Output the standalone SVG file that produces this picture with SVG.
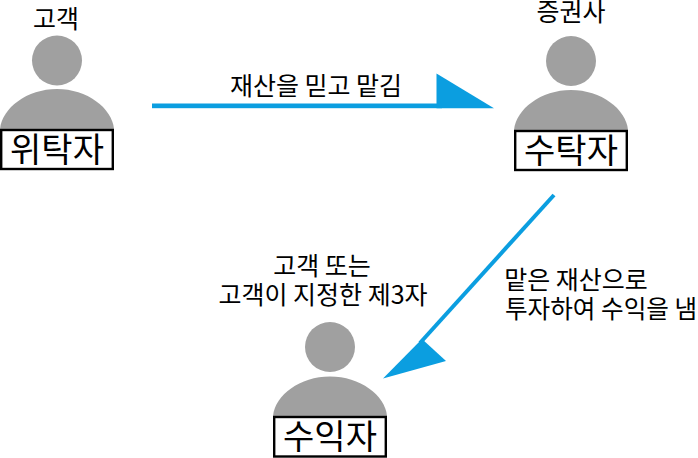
<svg xmlns="http://www.w3.org/2000/svg" width="698" height="458" viewBox="0 0 698 458">
<style>
text{font-family:"Noto Sans CJK KR","Noto Sans",sans-serif;fill:#000;text-anchor:middle}
.p{fill:#a0a0a0}
.b{fill:#fff;stroke:#000;stroke-width:2.4}
.t{font-size:25px}
.n{font-size:34px}
.c{fill:#0b9ee0}
</style>
<rect width="698" height="458" fill="#fff"/>
<g id="connectors">
<g id="c1"><rect class="c" x="152" y="103.500" width="290" height="4.700"/><polygon class="c" points="436.500,73.500 494,108.200 436.500,108.200"/></g>
<g id="c2"><line x1="554" y1="195" x2="420" y2="343" stroke="#0b9ee0" stroke-width="4"/><polygon class="c" points="383,378.500 422,339 446,361"/></g>
<text class="t" x="316" y="95">재산을 믿고 맡김</text>
<text class="t" x="576" y="289">맡은 재산으로</text>
<text class="t" x="601" y="318" style="font-size:24.600px">투자하여 수익을 냄</text>
</g>
<g id="node-client">
<text class="t" x="56" y="28">고객</text>
<circle class="p" cx="57" cy="60.500" r="25"/>
<path class="p" d="M0 129C2 108 27 89 57 89S112 108 114 129Z"/>
<rect class="b" x="1.200" y="130" width="111.600" height="39"/>
<text class="n" x="57" y="162">위탁자</text>
</g>
<g id="node-trustee">
<text class="t" x="571" y="21">증권사</text>
<circle class="p" cx="571" cy="61" r="25"/>
<path class="p" d="M514 130C516 109 541 90 571 90S626 109 628 130Z"/>
<rect class="b" x="515.200" y="131" width="111.600" height="39"/>
<text class="n" x="571" y="163">수탁자</text>
</g>
<g id="node-beneficiary">
<text class="t" x="322" y="275">고객 또는</text>
<text class="t" x="323" y="304">고객이 지정한 제3자</text>
<circle class="p" cx="330" cy="347" r="25"/>
<path class="p" d="M273 416C275 395 300 376.500 330 376.500S385 395 387 416Z"/>
<rect class="b" x="274.200" y="417" width="111.600" height="39.500"/>
<text class="n" x="330" y="449">수익자</text>
</g>
</svg>
